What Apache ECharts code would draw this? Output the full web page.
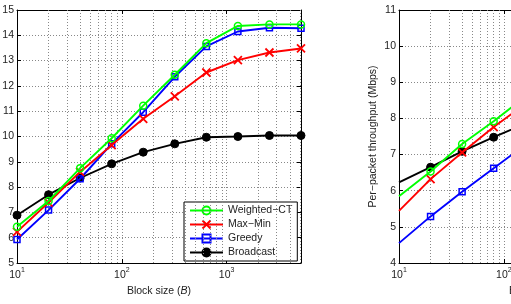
<!DOCTYPE html>
<html><head><meta charset="utf-8">
<script src="https://cdn.jsdelivr.net/npm/echarts@6/dist/echarts.min.js"></script>
<style>html,body{margin:0;padding:0;background:#fff}#c{width:511px;height:304px}</style>
</head><body><div id="c"></div>
<script>
// Left panel data
const blockSizesA = [10, 20, 40, 80, 160, 320, 640, 1280, 2560, 5120];
const weightedCtA = [6.43, 7.45, 8.75, 9.93, 11.22, 12.44, 13.69, 14.37, 14.43, 14.43];
const maxMinA     = [6.23, 7.39, 8.60, 9.66, 10.70, 11.59, 12.53, 13.02, 13.32, 13.48];
const greedyA     = [5.93, 7.09, 8.33, 9.71, 10.96, 12.36, 13.56, 14.15, 14.30, 14.28];
const broadcastA  = [6.89, 7.70, 8.36, 8.92, 9.38, 9.71, 9.97, 10.00, 10.04, 10.04];
// Right panel data (visible part)
const blockSizesB = [10, 20, 40, 80, 160];
const weightedCtB = [5.85, 6.53, 7.29, 7.92, 8.60];
const maxMinB     = [5.44, 6.32, 7.06, 7.76, 8.40];
const greedyB     = [4.55, 5.29, 5.97, 6.62, 7.27];
const broadcastB  = [6.23, 6.65, 7.09, 7.48, 7.86];
// Axis ticks
const xMin = 10, xMax = 5120;
const yTicksA = [5, 15];
const yTicksB = [4, 11];
const minorGridX = [20,30,40,50,60,70,80,90,200,300,400,500,600,700,800,900,2000,3000,4000,5000];
const seriesNames = ['Weighted\u2212CT', 'Max\u2212Min', 'Greedy', 'Broadcast'];

const FONT = 'Liberation Sans';
const FS = 10.5;
const colors = ['#00ff00', '#ff0000', '#0000ff', '#000000'];
const xPath = 'path://M0,0L10,10M10,0L0,10';
const symbols = ['circle', xPath, 'rect', 'circle'];
const symbolSizes = [7, 8, 6, 8];
const itemStyles = [
  {color: 'rgba(0,0,0,0)', borderColor: '#00ff00', borderWidth: 1.5},
  {color: 'rgba(0,0,0,0)', borderColor: '#ff0000', borderWidth: 1.8},
  {color: 'rgba(0,0,0,0)', borderColor: '#0000ff', borderWidth: 1.5},
  {color: '#000000', borderColor: '#000000', borderWidth: 1}
];
const gridLine = {show: true, lineStyle: {color: '#888', type: [1, 2], width: 1}};
const supFmt = v => {
  const e = Math.log10(v);
  if (Math.abs(e - Math.round(e)) < 1e-6) return '{b|10}{s|' + Math.round(e) + '}';
  return '';
};
function xAxisDef(gi, name) {
  return {
    type: 'log', logBase: 10, gridIndex: gi, min: xMin, max: xMax,
    name: name, nameLocation: 'middle', nameGap: 19,
    nameTextStyle: {fontFamily: FONT, fontSize: FS, color: '#222',
      rich: {i: {fontFamily: FONT, fontSize: FS, fontStyle: 'italic', color: '#222'}}},
    axisLine: {lineStyle: {color: '#000', width: 1}},
    axisTick: {inside: true, length: 4, lineStyle: {color: '#000'}},
    axisLabel: {formatter: supFmt, margin: 4, color: '#222',
      rich: {b: {fontFamily: FONT, fontSize: FS, lineHeight: 14, verticalAlign: 'bottom', color: '#222'},
             s: {fontFamily: FONT, fontSize: 7, lineHeight: 14, verticalAlign: 'top', color: '#222'}}},
    splitLine: gridLine
  };
}
function xTopDef(gi) {
  return {type: 'log', logBase: 10, gridIndex: gi, min: xMin, max: xMax, position: 'top',
    axisLine: {lineStyle: {color: '#000', width: 1}},
    axisTick: {inside: true, length: 4, lineStyle: {color: '#000'}},
    axisLabel: {show: false}, splitLine: {show: false}};
}
function yAxisDef(gi, ticks, name) {
  return {type: 'value', gridIndex: gi, min: ticks[0], max: ticks[1], interval: 1,
    name: name, nameLocation: 'middle', nameGap: 20, nameMoveOverlap: false,
    nameTextStyle: {fontFamily: FONT, fontSize: FS, color: '#222'},
    axisLine: {show: true, lineStyle: {color: '#000', width: 1}},
    axisTick: {show: true, inside: true, length: 4, lineStyle: {color: '#000'}},
    axisLabel: {fontFamily: FONT, fontSize: FS, color: '#222', margin: 3},
    splitLine: gridLine};
}
function yRightDef(gi, ticks) {
  return {type: 'value', gridIndex: gi, min: ticks[0], max: ticks[1], interval: 1, position: 'right',
    axisLine: {show: true, lineStyle: {color: '#000', width: 1}},
    axisTick: {show: true, inside: true, length: 4, lineStyle: {color: '#000'}},
    axisLabel: {show: false}, splitLine: {show: false}};
}
function mkSeries(gi, xs, valsList, hideFirst) {
  return valsList.map((vals, k) => ({
    name: seriesNames[k], type: 'line', xAxisIndex: gi * 2, yAxisIndex: gi * 2,
    data: vals.map((v, j) => (hideFirst && j === 0) ? {value: [xs[j], v], symbolSize: 0} : [xs[j], v]),
    symbol: symbols[k], symbolSize: symbolSizes[k], showAllSymbol: true,
    lineStyle: {color: colors[k], width: 1.9}, itemStyle: itemStyles[k],
    z: 10 - k, animation: false,
    markLine: k === 0 ? {silent: true, symbol: 'none', animation: false,
      label: {show: false}, lineStyle: {color: '#888', type: [1, 2], width: 1},
      emphasis: {disabled: true},
      data: minorGridX.map(v => ({xAxis: v}))} : undefined
  }));
}
const chart = echarts.init(document.getElementById('c'), null, {renderer: 'canvas'});
chart.setOption({
  animation: false,
  backgroundColor: '#fff',
  textStyle: {fontFamily: FONT},
  grid: [
    {left: 17, top: 10, width: 284, height: 253, outerBoundsMode: 'none', containLabel: false},
    {left: 399, top: 10, width: 284, height: 253, outerBoundsMode: 'none', containLabel: false}
  ],
  xAxis: [xAxisDef(0, 'Block size ({i|B})'), xTopDef(0), xAxisDef(1, 'Block size ({i|B})'), xTopDef(1)],
  yAxis: [yAxisDef(0, yTicksA, ''), yRightDef(0, yTicksA), yAxisDef(1, yTicksB, 'Per\u2212packet throughput (Mbps)'), yRightDef(1, yTicksB)],
  legend: {
    data: seriesNames, orient: 'vertical', left: 184, top: 202,
    padding: [3, 5, 3, 5], itemGap: 3, itemWidth: 33, itemHeight: 10,
    backgroundColor: '#fff', borderColor: '#000', borderWidth: 1,
    textStyle: {fontFamily: FONT, fontSize: FS, color: '#222'}
  },
  series: [].concat(
    mkSeries(0, blockSizesA, [weightedCtA, maxMinA, greedyA, broadcastA], false),
    mkSeries(1, blockSizesB, [weightedCtB, maxMinB, greedyB, broadcastB], true)
  )
});
</script></body></html>
